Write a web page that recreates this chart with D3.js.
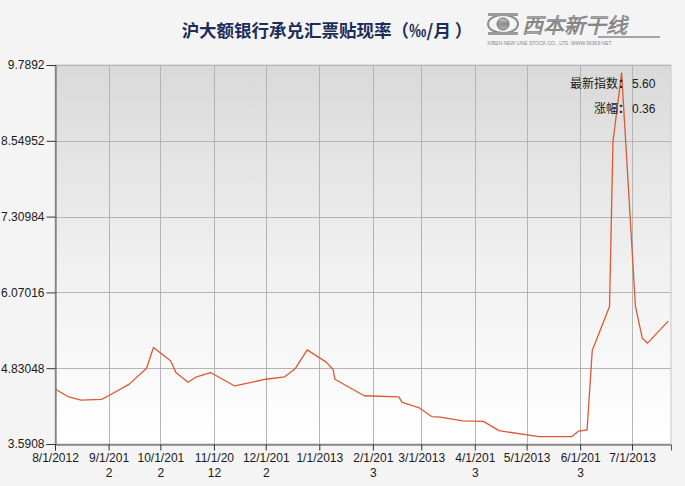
<!DOCTYPE html>
<html><head><meta charset="utf-8">
<script src="https://cdn.jsdelivr.net/npm/d3@7"></script>
<style>
html,body{margin:0;padding:0;background:#f4f4f4;}
svg{display:block;}
</style></head>
<body>
<svg id="chart" width="685" height="486"></svg>
<script>
// ---- data ----
const titleText = "沪大额银行承兑汇票贴现率（‰/月 ）";
const dates = ["2012-08-01","2012-08-09","2012-08-16","2012-08-28","2012-09-01","2012-09-13","2012-09-23","2012-09-27",
 "2012-10-07","2012-10-10","2012-10-17","2012-10-22","2012-10-30","2012-11-13","2012-12-01","2012-12-12","2012-12-18",
 "2012-12-25","2013-01-05","2013-01-09","2013-01-10","2013-01-27","2013-02-16","2013-02-18","2013-02-28","2013-03-07",
 "2013-03-12","2013-03-25","2013-04-06","2013-04-15","2013-05-08","2013-05-27","2013-05-31","2013-06-05","2013-06-08",
 "2013-06-18","2013-06-20","2013-06-25","2013-07-03","2013-07-07","2013-07-10","2013-07-22"];
const values = [4.49,4.36,4.31,4.32,4.38,4.57,4.83,5.17,
 4.95,4.76,4.60,4.69,4.76,4.54,4.65,4.69,4.82,
 5.13,4.93,4.81,4.65,4.38,4.36,4.27,4.18,4.04,
 4.03,3.97,3.96,3.81,3.71,3.71,3.80,3.82,5.12,
 5.84,8.54,9.66,5.84,5.32,5.24,5.60];
const yTicks = [3.5908,4.83048,6.07016,7.30984,8.54952,9.7892];
const yTickLabels = ["3.5908","4.83048","6.07016","7.30984","8.54952","9.7892"];
const xTickDates = ["2012-08-01","2012-09-01","2012-10-01","2012-11-01","2012-12-01","2013-01-01",
 "2013-02-01","2013-03-01","2013-04-01","2013-05-01","2013-06-01","2013-07-01"];
const xTickLabels = [["8/1/2012"],["9/1/201","2"],["10/1/201","2"],["11/1/20","12"],["12/1/201","2"],["1/1/2013"],
 ["2/1/201","3"],["3/1/2013"],["4/1/201","3"],["5/1/2013"],["6/1/201","3"],["7/1/2013"]];
const xDomain = ["2012-08-01","2013-07-23T14:00"];
const latestLabel = "最新指数", latestValue = "5.60";
const changeLabel = "涨幅", changeValue = "0.36";

// ---- layout ----
const M = {left:55, right:671, top:65, bottom:444};
const parse = d3.isoParse;
const svg = d3.select("#chart");
const data = dates.map((d,i)=>({date:parse(d), value:values[i]}));

const x = d3.scaleTime().domain(xDomain.map(parse)).range([M.left, M.right]);
const y = d3.scaleLinear().domain([yTicks[0], yTicks[yTicks.length-1]]).range([M.bottom, M.top]);

const defs = svg.append("defs");
const grad = defs.append("linearGradient").attr("id","bg").attr("x1",0).attr("y1",0).attr("x2",0).attr("y2",1);
grad.append("stop").attr("offset","0%").attr("stop-color","#d9d9d9");
grad.append("stop").attr("offset","55%").attr("stop-color","#f1f1f1");
grad.append("stop").attr("offset","100%").attr("stop-color","#ffffff");
const lg = defs.append("linearGradient").attr("id","logo").attr("x1",0).attr("y1",0).attr("x2",0).attr("y2",1);
lg.append("stop").attr("offset","0%").attr("stop-color","#c8c8c8");
lg.append("stop").attr("offset","50%").attr("stop-color","#8c8c8c");
lg.append("stop").attr("offset","100%").attr("stop-color","#b5b5b5");

svg.append("rect").attr("x",0).attr("y",0).attr("width",685).attr("height",486).attr("fill","#f4f4f4");
svg.append("rect").attr("x",M.left).attr("y",M.top).attr("width",M.right-M.left).attr("height",M.bottom-M.top)
  .attr("fill","url(#bg)").attr("stroke","#c8c8c8").attr("stroke-width",1);

// gridlines
const gridG = svg.append("g");
gridG.selectAll("line.h").data(yTicks).join("line")
  .attr("x1",M.left).attr("x2",M.right)
  .attr("y1",d=>Math.round(y(d))+0.5).attr("y2",d=>Math.round(y(d))+0.5)
  .attr("stroke","#b4b4b4").attr("stroke-width",1);
gridG.selectAll("line.v").data(xTickDates.map(parse)).join("line")
  .attr("x1",d=>Math.round(x(d))+0.5).attr("x2",d=>Math.round(x(d))+0.5)
  .attr("y1",M.top).attr("y2",M.bottom)
  .attr("stroke","#b4b4b4").attr("stroke-width",1);

// axes
const yAxis = d3.axisLeft(y).tickValues(yTicks).tickSize(9).tickPadding(2)
  .tickFormat((d,i)=>yTickLabels[i]);
const yg = svg.append("g").attr("transform",`translate(${M.left+0.5},0)`).call(yAxis);
yg.select(".domain").attr("stroke","#555");
yg.selectAll(".tick line").attr("stroke","#333");
yg.selectAll(".tick text").attr("font-family","Tahoma, 'Liberation Sans', Arial, sans-serif")
  .attr("font-size","12px").attr("fill","#1a1a1a");

const xAxis = d3.axisBottom(x).tickValues(xTickDates.map(parse)).tickSize(6).tickPadding(3).tickFormat("");
const xg = svg.append("g").attr("transform",`translate(0,${M.bottom+0.5})`).call(xAxis);
xg.select(".domain").attr("stroke","#555");
xg.selectAll(".tick line").attr("stroke","#333");
xg.selectAll(".tick").each(function(d,i){
  const t = d3.select(this).append("text").attr("text-anchor","middle")
    .attr("font-family","Tahoma, 'Liberation Sans', Arial, sans-serif").attr("font-size","12px").attr("fill","#1a1a1a");
  xTickLabels[i].forEach((s,k)=>{
    t.append("tspan").attr("x",0).attr("y",17+k*15).text(s);
  });
});

// line
const line = d3.line().x(d=>x(d.date)).y(d=>y(d.value));
svg.append("path").datum(data).attr("d",line)
  .attr("fill","none").attr("stroke","#d95a36").attr("stroke-width",1.3).attr("stroke-linejoin","round");

// annotations
const ann = svg.append("g").attr("font-size","12px").attr("fill","#1a1a1a");
[[latestLabel,latestValue,88],[changeLabel,changeValue,113]].forEach(([l,v,yy])=>{
  const t = ann.append("text").attr("x",630).attr("y",yy).attr("text-anchor","end")
    .attr("font-family","'Noto Sans CJK SC', sans-serif");
  t.append("tspan").text(l);
  t.append("tspan").attr("font-weight","bold").text("：");
  ann.append("text").attr("x",632).attr("y",yy).attr("font-family","'Liberation Sans', Arial, sans-serif").text(v);
});

// title
svg.append("text").attr("x",327).attr("y",37).attr("text-anchor","middle")
  .attr("font-family","'Noto Sans CJK SC', sans-serif").attr("font-size","17.5px").attr("font-weight","bold")
  .attr("fill","#1c2d5a").text(titleText);

// logo (approximation)
const emb = svg.append("g").attr("transform","translate(503,24)");
emb.append("ellipse").attr("rx",15).attr("ry",9).attr("fill","none").attr("stroke","#8a8a8a").attr("stroke-width",2);
emb.append("circle").attr("r",6).attr("fill","url(#logo)").attr("stroke","#6e6e6e").attr("stroke-width",1);
emb.append("rect").attr("x",-15).attr("y",-11).attr("width",30).attr("height",3).attr("fill","#9a9a9a");
emb.append("rect").attr("x",-15).attr("y",8).attr("width",30).attr("height",3).attr("fill","#9a9a9a");
svg.append("text").attr("x",522).attr("y",33).attr("font-family","'Noto Sans CJK SC', sans-serif")
  .attr("font-size","21px").attr("font-style","italic").attr("fill","url(#logo)").attr("stroke","#6a6a6a").attr("stroke-width",0.5)
  .text("西本新干线");
svg.append("line").attr("x1",598).attr("x2",660).attr("y1",37).attr("y2",37).attr("stroke","#8a8a8a").attr("stroke-width",1.5);
svg.append("text").attr("x",487).attr("y",45).attr("font-family","'Liberation Sans', sans-serif")
  .attr("font-size","5px").attr("fill","#888").text("XIBEN NEW LINE STOCK CO., LTD.   WWW.96369.NET");
</script>
</body></html>
